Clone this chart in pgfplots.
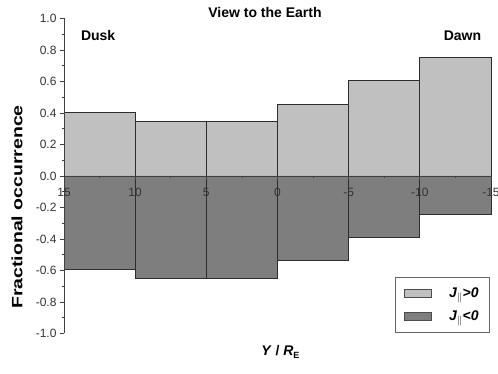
\documentclass[border=0pt]{standalone}
\usepackage{pgfplots}
\pgfplotsset{compat=1.18}
\usepackage{graphicx}
\usepackage{fontspec}
\setmainfont{Liberation Sans}
\definecolor{lightbar}{RGB}{192,192,192}
\definecolor{darkbar}{RGB}{126,126,126}
\definecolor{edge}{RGB}{45,45,45}
\begin{document}
\begin{tikzpicture}
\begin{axis}[
  scale only axis, width=427bp, height=315bp,
  xmin=-15, xmax=15, ymin=-1, ymax=1,
  axis x line=middle, axis y line=left,
  axis line style={-, draw=black!75, line width=0.9bp},
  axis on top, clip=false,
  hide obscured x ticks=false,
  tick align=outside,
  major tick length=4bp, minor tick length=2.5bp,
  tick style={black!75, line width=0.8bp},
  xtick={-15,-10,-5,0,5,10,15},
  xticklabels={15,10,5,0,-5,-10,-15},
  minor x tick num=1,
  ytick={-1,-0.8,-0.6,-0.4,-0.2,0,0.2,0.4,0.6,0.8,1},
  minor y tick num=1,
  yticklabel style={/pgf/number format/.cd, fixed, fixed zerofill, precision=1, assume math mode=true},
  ticklabel style={font=\fontsize{12bp}{14bp}\selectfont, text=black!80},
  xticklabel style={yshift=-5bp},
  legend style={at={(rel axis cs:0.9977,0.178)}, anchor=north east,
    draw=black!60, line width=0.8bp, font=\fontsize{14bp}{16bp}\selectfont,
    inner xsep=9bp, inner ysep=8bp, row sep=8bp,
    /tikz/every odd column/.append style={column sep=15bp}},
  legend cell align=left,
]
\addplot[ybar interval, fill=lightbar, draw=edge, line width=0.8bp,
  legend image code/.code={\draw[fill=lightbar, draw=black!70, line width=0.8bp] (0bp,-4bp) rectangle (27bp,4bp);}]
  coordinates {(-15,0.404) (-10,0.345) (-5,0.345) (0,0.457) (5,0.607) (10,0.754) (15,0.754)};
\addlegendentry{\textbf{\textit{J}}$_{\|}$\textbf{\textit{>0}}}
\addplot[ybar interval, fill=darkbar, draw=edge, line width=0.8bp,
  legend image code/.code={\draw[fill=darkbar, draw=black!70, line width=0.8bp] (0bp,-4bp) rectangle (27bp,4bp);}]
  coordinates {(-15,-0.593) (-10,-0.652) (-5,-0.652) (0,-0.538) (5,-0.392) (10,-0.241) (15,-0.241)};
\addlegendentry{\textbf{\textit{J}}$_{\|}$\textbf{\textit{<0}}}
\node[font=\bfseries\fontsize{14bp}{16bp}\selectfont] at (axis cs:-12.6,0.889) {Dusk};
\node[font=\bfseries\fontsize{14bp}{16bp}\selectfont] at (axis cs:13.0,0.889) {Dawn};
\node[font=\bfseries\fontsize{14bp}{16bp}\selectfont] at (axis cs:-0.88,1.041) {View to the Earth};
\node[rotate=90, font=\bfseries\fontsize{15bp}{17bp}\selectfont] at (axis cs:-18.3,-0.197) {\scalebox{1.3}[1]{Fractional occurrence}};
\node[font=\bfseries\fontsize{14bp}{16bp}\selectfont] at (axis cs:0.2,-1.117) {\textit{Y} / \textit{R}\raisebox{-0.35ex}{\fontsize{9bp}{10bp}\selectfont E}};
\coordinate (bbl) at (axis cs:-19.497,-1.257);
\coordinate (btr) at (axis cs:15.493,1.1175);
\end{axis}
\pgfresetboundingbox
\path (bbl) rectangle (btr);
\end{tikzpicture}
\end{document}
